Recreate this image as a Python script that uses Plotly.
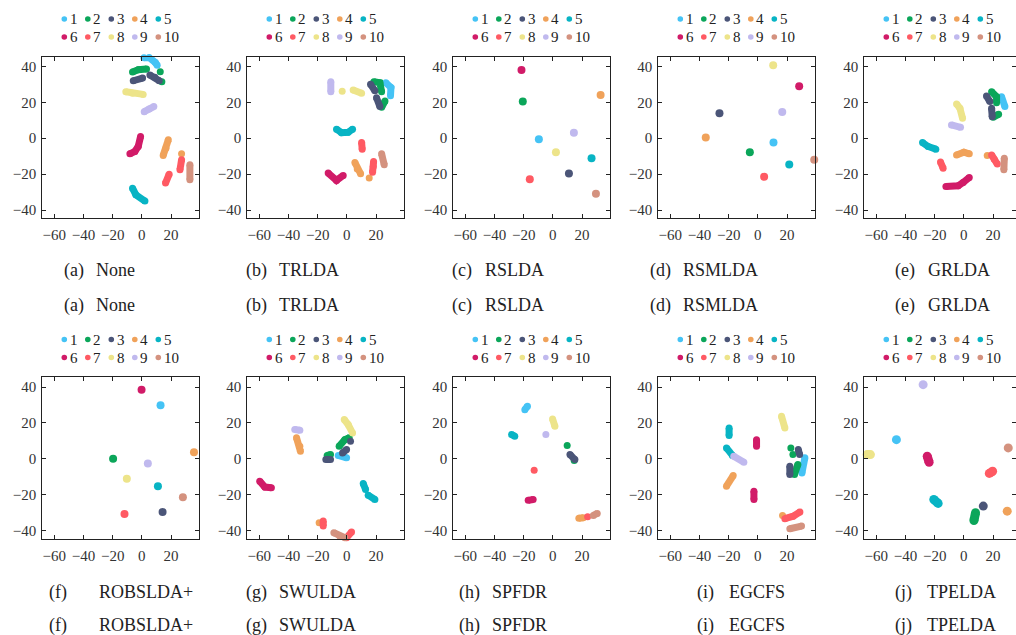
import plotly.graph_objects as go

# ---------------- data ----------------
CLASS_COLORS = {1: "#45C3F5", 2: "#0BA65A", 3: "#4B5578", 4: "#F0A25A", 5: "#08B4C4",
                6: "#D11B68", 7: "#FF5A63", 8: "#EDE48A", 9: "#C0B9EE", 10: "#D4927F"}

CAPTION_TAGS = ["(a)", "(b)", "(c)", "(d)", "(e)", "(f)", "(g)", "(h)", "(i)", "(j)"]
CAPTION_NAMES = ["None", "TRLDA", "RSLDA", "RSMLDA", "GRLDA",
                 "ROBSLDA+", "SWULDA", "SPFDR", "EGCFS", "TPELDA"]

X_TICKS = [-60, -40, -20, 0, 20]
Y_TICKS = [-40, -20, 0, 20, 40]

# each class -> list of strokes, each stroke a list of (x, y) points
PANEL_A = {
    1: [[(1.4, 44.8), (5.0, 45.0), (9.2, 42.2), (10.5, 40.7)]],
    2: [[(-6.4, 36.9), (-2.5, 38.1), (3.2, 38.5)], [(12.6, 37.0)], [(13.7, 31.5)]],
    3: [[(-5.9, 32.0), (0.5, 33.5)], [(5.5, 35.2), (8.9, 33.9), (11.9, 32.0)]],
    4: [[(18.1, -0.9), (16.5, -5.6), (14.6, -9.6)], [(27.2, -8.7)]],
    5: [[(-6.4, -27.8), (-4.1, -31.5), (2.1, -35.0)]],
    6: [[(-0.9, 0.9), (-2.5, -4.6), (-4.8, -7.4), (-8.2, -8.7)]],
    7: [[(27.2, -12.0), (26.1, -17.6)], [(18.7, -20.0), (16.2, -25.0)]],
    8: [[(-11.0, 25.9), (-6.4, 25.0), (0.9, 24.4)]],
    9: [[(1.6, 14.8), (5.0, 16.3), (8.2, 17.6)]],
    10: [[(32.9, -14.8), (32.9, -23.1)]],
}
PANEL_B = {
    1: [[(26.7, 30.9), (30.2, 28.3), (29.9, 23.7)]],
    2: [[(18.5, 31.5), (22.6, 30.9), (23.8, 25.9)], [(26.1, 20.7), (23.8, 17.2)]],
    3: [[(16.2, 30.0), (19.2, 26.5)], [(20.3, 22.6), (22.6, 17.6)]],
    4: [[(5.5, -13.5), (7.1, -17.2), (9.4, -19.8)], [(15.3, -22.2)]],
    5: [[(-7.1, 5.0), (-3.7, 3.1), (0.9, 3.3), (3.9, 5.0)]],
    6: [[(-12.8, -19.4), (-7.1, -23.5), (-2.5, -20.7)]],
    7: [[(10.1, -2.4), (10.5, -6.1)], [(18.3, -13.0), (18.1, -15.7), (17.6, -18.9)]],
    8: [[(-3.2, 26.1)], [(4.3, 26.9), (10.1, 25.0)]],
    9: [[(-11.0, 31.5), (-11.0, 25.9)]],
    10: [[(23.8, -8.7), (25.6, -14.8)]],
}
PANEL_C = {
    1: [[(-9.6, -0.6)]], 2: [[(-20.6, 20.4)]], 3: [[(11.0, -19.6)]], 4: [[(32.7, 24.1)]],
    5: [[(26.5, -11.1)]], 6: [[(-21.5, 38.0)]], 7: [[(-15.8, -22.8)]], 8: [[(2.1, -7.8)]],
    9: [[(14.4, 3.1)]], 10: [[(29.5, -30.9)]],
}
PANEL_D = {
    1: [[(10.7, -2.4)]], 2: [[(-5.5, -7.8)]], 3: [[(-26.3, 13.9)]], 4: [[(-35.7, 0.4)]],
    5: [[(21.5, -14.6)]], 6: [[(28.3, 28.9)]], 7: [[(4.3, -21.5)]], 8: [[(10.5, 40.7)]],
    9: [[(16.7, 14.6)]], 10: [[(38.6, -12.0)]],
}
PANEL_E = {
    1: [[(25.8, 23.1), (28.1, 17.6)]],
    2: [[(19.0, 25.9), (22.4, 23.1), (22.4, 19.8)], [(20.1, 11.7), (23.8, 13.3)]],
    3: [[(15.5, 23.5), (17.8, 20.4)], [(19.0, 16.7), (19.4, 12.0)]],
    4: [[(-5.0, -9.3), (0.0, -7.8), (3.7, -8.7)], [(16.0, -9.6)]],
    5: [[(-28.3, -2.4), (-24.5, -4.6), (-19.2, -6.1)]],
    6: [[(-12.3, -26.9), (-3.9, -26.5), (-0.5, -24.6), (3.7, -21.9)]],
    7: [[(-16.0, -13.3), (-14.2, -16.7)], [(19.0, -9.3), (20.8, -11.7), (22.9, -14.4)]],
    8: [[(-5.0, 19.1), (-2.7, 16.7), (-0.9, 11.1)]],
    9: [[(-8.5, 7.4), (-2.3, 6.1)]],
    10: [[(27.7, -11.1), (27.4, -17.6)]],
}
PANEL_F = {
    1: [[(12.8, 29.8)]], 2: [[(-19.7, 0.0)]], 3: [[(14.2, -29.6)]], 4: [[(35.7, 3.7)]],
    5: [[(11.0, -15.2)]], 6: [[(-0.2, 38.5)]], 7: [[(-11.9, -30.7)]], 8: [[(-10.3, -11.1)]],
    9: [[(4.1, -2.6)]], 10: [[(28.1, -21.3)]],
}
PANEL_G = {
    1: [[(-5.9, 1.9), (-0.2, 0.6)]],
    2: [[(-5.3, 7.0), (-1.4, 10.7), (1.6, 11.7)], [(-13.5, 1.9), (-11.2, 2.4)]],
    3: [[(-3.0, 3.3), (-0.2, 5.2)], [(2.5, 9.8)], [(-14.4, -0.4), (-11.2, -0.4)]],
    4: [[(-34.5, 11.7), (-32.2, 7.0), (-31.8, 4.3)], [(-19.0, -35.6)]],
    5: [[(11.2, -13.7), (12.8, -17.0)], [(14.6, -20.2), (19.2, -22.6)]],
    6: [[(-59.7, -12.4), (-56.2, -15.7), (-51.7, -16.1)]],
    7: [[(-16.2, -34.6), (-16.2, -37.4)], [(-0.2, -43.9), (3.2, -40.7)]],
    8: [[(-1.8, 21.9), (0.9, 19.1), (3.9, 14.4)]],
    9: [[(-35.7, 16.3), (-32.2, 15.9)]],
    10: [[(-8.9, -41.1), (-4.8, -43.0), (-1.4, -43.9)]],
}
PANEL_H = {
    1: [[(-19.2, 27.4), (-17.4, 29.3)]],
    2: [[(9.8, 7.4)], [(14.6, -0.9)]],
    3: [[(11.7, 2.4), (15.1, -0.4)]],
    4: [[(17.8, -33.1), (20.8, -32.8)]],
    5: [[(-28.3, 13.5), (-26.1, 12.6)]],
    6: [[(-16.9, -23.1), (-13.5, -22.6)]],
    7: [[(-12.8, -6.3)], [(23.8, -32.2)]],
    8: [[(-0.2, 22.2), (1.4, 18.1)]],
    9: [[(-4.8, 13.5)]],
    10: [[(27.7, -31.5), (30.4, -30.4)]],
}
PANEL_I = {
    1: [[(32.2, 0.6), (30.2, -7.8)]],
    2: [[(22.6, 6.1)], [(24.0, 2.4)], [(27.4, -3.1), (25.1, -8.7)]],
    3: [[(27.7, 5.2), (28.6, 2.4)], [(21.9, -4.1), (21.9, -8.7)]],
    4: [[(-16.9, -9.3), (-21.5, -15.2)], [(16.9, -31.5)]],
    5: [[(-19.7, 17.2), (-19.7, 13.0)], [(-21.5, 6.1), (-17.4, 1.9)]],
    6: [[(-0.9, 10.7), (-0.9, 7.0)], [(-2.7, -18.0), (-2.7, -22.6)]],
    7: [[(18.5, -33.3), (24.2, -31.9), (28.8, -29.6)]],
    8: [[(16.2, 23.7), (18.5, 17.2)]],
    9: [[(-16.5, 1.5), (-9.6, -1.9)]],
    10: [[(21.9, -38.9), (29.9, -37.4)]],
}
PANEL_J = {
    1: [[(-46.2, 10.7)]], 2: [[(8.0, -30.0), (6.9, -34.3)]], 3: [[(13.3, -26.3)]],
    4: [[(29.7, -29.1)]], 5: [[(-20.6, -22.6), (-17.6, -24.8)]],
    6: [[(-25.1, 1.5), (-23.8, -1.9)]], 7: [[(17.4, -8.1), (19.7, -6.9)]],
    8: [[(-66.3, 2.4), (-64.0, 2.4)]], 9: [[(-27.9, 41.3)]], 10: [[(30.4, 6.1)]],
}
PANELS = [PANEL_A, PANEL_B, PANEL_C, PANEL_D, PANEL_E,
          PANEL_F, PANEL_G, PANEL_H, PANEL_I, PANEL_J]

# ---------------- layout geometry (pixels) ----------------
W, H = 1016, 635
FONT = "'Liberation Serif', 'Times New Roman', Times, 'DejaVu Serif', serif"
PANEL_LEFT = [42.3, 247.3, 453.3, 658.3, 864.3]
PANEL_W = 156.5
ROW_TOP = [56.7, 377.3]
ROW_BOT = [218.3, 539.0]
X_MIN, X_MAX = -68.2, 39.0
Y_MIN, Y_MAX = -44.6, 45.4
MARK_SIZE = [7, 7, 8, 8, 7, 8, 7, 7, 7, 9]
LEG_ROWS = [(19, 37), (339.5, 357.5)]
LEG_OFFS = [22, 45.5, 69, 92.5, 116]
CAP_Y = [(270, 305), (592, 625)]
CAP_TAG_X = [62, 244, 450, 648, 893, 47, 244, 457, 695, 893]
CAP_NAME_X = [94, 277, 483, 681, 926, 97, 277, 490, 727, 925]

fig = go.Figure()
layout = dict(width=W, height=H, margin=dict(l=0, r=0, t=0, b=0),
              paper_bgcolor="white", plot_bgcolor="white", showlegend=False,
              font=dict(family=FONT, size=14, color="#333"))
shapes, annotations = [], []

for i, panel in enumerate(PANELS):
    row, col = divmod(i, 5)
    k = "" if i == 0 else str(i + 1)
    left = PANEL_LEFT[col]
    right = min(left + PANEL_W, W)
    xmax = X_MIN + (right - left) / PANEL_W * (X_MAX - X_MIN)
    axis_common = dict(showline=True, linecolor="#222", linewidth=1, mirror="ticks",
                       ticks="inside", ticklen=4, tickcolor="#222", showgrid=False,
                       zeroline=False, tickfont=dict(family=FONT, size=15, color="#333"))
    layout["xaxis" + k] = dict(domain=[left / W, right / W], range=[X_MIN, xmax],
                               anchor="y" + k, tickvals=X_TICKS, ticklabelstandoff=3,
                               **axis_common)
    layout["yaxis" + k] = dict(domain=[1 - ROW_BOT[row] / H, 1 - ROW_TOP[row] / H],
                               range=[Y_MIN, Y_MAX], anchor="x" + k, tickvals=Y_TICKS,
                               ticklabelstandoff=2, **axis_common)
    s = MARK_SIZE[i]
    for cls, strokes in panel.items():
        for stroke in strokes:
            xs = [p[0] for p in stroke]
            ys = [p[1] for p in stroke]
            fig.add_trace(go.Scatter(
                x=xs, y=ys, xaxis="x" + k, yaxis="y" + k,
                mode="lines+markers" if len(stroke) > 1 else "markers",
                line=dict(color=CLASS_COLORS[cls], width=s),
                marker=dict(color=CLASS_COLORS[cls], size=s, line=dict(width=0)),
                cliponaxis=False, hoverinfo="skip"))
    # legend (two rows of five)
    for r, py in enumerate(LEG_ROWS[row]):
        for j in range(5):
            cls = r * 5 + j + 1
            px = left + LEG_OFFS[j]
            shapes.append(dict(type="circle", xref="paper", yref="paper",
                               xsizemode="pixel", ysizemode="pixel",
                               xanchor=px / W, yanchor=1 - py / H,
                               x0=-2.8, x1=2.8, y0=-2.8, y1=2.8,
                               fillcolor=CLASS_COLORS[cls], line=dict(width=0)))
            annotations.append(dict(xref="paper", yref="paper", x=(px + 3.5) / W,
                                    y=1 - py / H, xanchor="left", yanchor="middle",
                                    text=str(cls), showarrow=False,
                                    font=dict(family=FONT, size=15, color="#222")))
    # captions (printed twice)
    for cy in CAP_Y[row]:
        annotations.append(dict(xref="paper", yref="paper", x=CAP_TAG_X[i] / W,
                                y=1 - cy / H, xanchor="left", yanchor="middle",
                                text=CAPTION_TAGS[i], showarrow=False,
                                font=dict(family=FONT, size=18, color="#222")))
        annotations.append(dict(xref="paper", yref="paper", x=CAP_NAME_X[i] / W,
                                y=1 - cy / H, xanchor="left", yanchor="middle",
                                text=CAPTION_NAMES[i], showarrow=False,
                                font=dict(family=FONT, size=18, color="#222")))

layout["shapes"] = shapes
layout["annotations"] = annotations
fig.update_layout(**layout)
fig.write_html("out.html")
